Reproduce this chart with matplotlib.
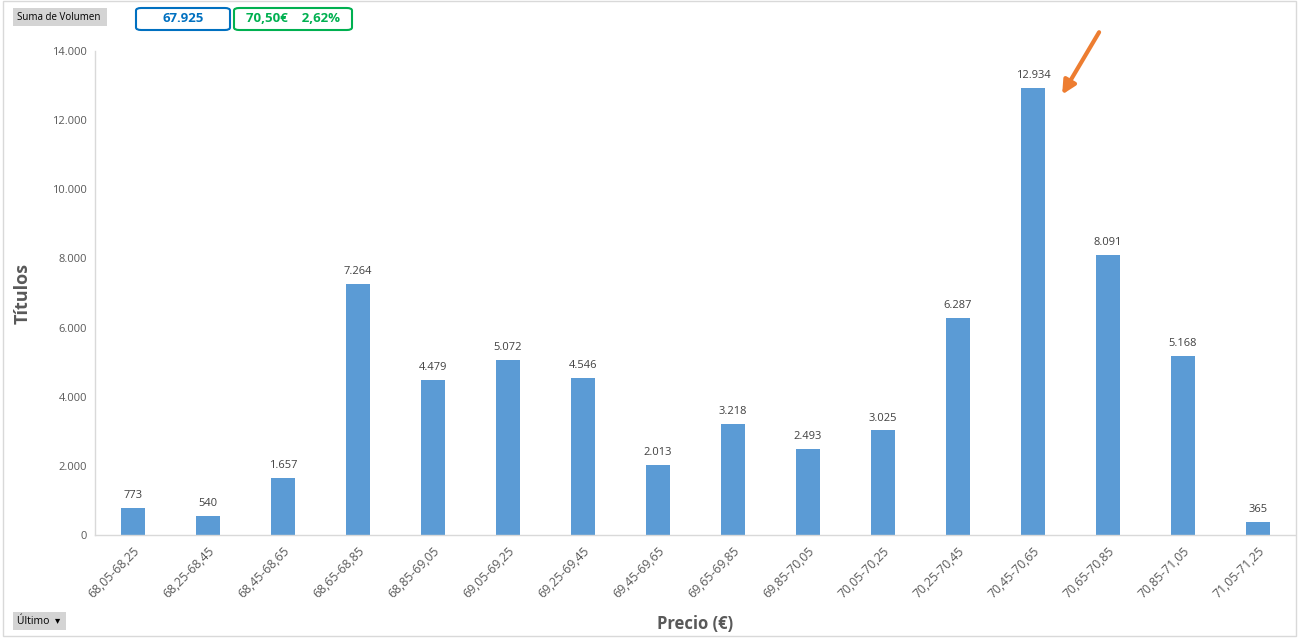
import matplotlib
matplotlib.use('Agg')
import matplotlib.pyplot as plt
import numpy as np
from matplotlib.patches import FancyBboxPatch, Rectangle

# ── data ────────────────────────────────────────────────────────────────
rangos = ['68,05-68,25', '68,25-68,45', '68,45-68,65', '68,65-68,85',
          '68,85-69,05', '69,05-69,25', '69,25-69,45', '69,45-69,65',
          '69,65-69,85', '69,85-70,05', '70,05-70,25', '70,25-70,45',
          '70,45-70,65', '70,65-70,85', '70,85-71,05', '71,05-71,25']
volumen = [773, 540, 1657, 7264, 4479, 5072, 4546, 2013,
           3218, 2493, 3025, 6287, 12934, 8091, 5168, 365]
yticks = [0, 2000, 4000, 6000, 8000, 10000, 12000, 14000]
total_txt = '67.925'
ultimo_txt = '70,50€    2,62%'

def miles(v):
    return f'{v:,.0f}'.replace(',', '.')

plt.rcParams['font.family'] = ['Open Sans', 'DejaVu Sans']
GREY = '#595959'
BLUE = '#5B9BD5'

fig = plt.figure(figsize=(12.99, 6.39), dpi=100)
ax = fig.add_axes([0.0735, 0.1628, 0.9238, 0.7572])

x = np.arange(len(rangos))
bars = ax.bar(x, volumen, width=0.32, color=BLUE)
ax.set_xlim(-0.5, len(rangos) - 0.5)
ax.set_ylim(0, 14000)
ax.set_yticks(yticks)
ax.set_yticklabels([miles(v) for v in yticks], fontsize=8, color=GREY)
ax.set_xticks(x)
ax.set_xticklabels(rangos, rotation=45, ha='right', rotation_mode='anchor',
                   fontsize=8.8, color=GREY)
ax.tick_params(axis='both', length=0, pad=6)
ax.tick_params(axis='x', pad=7)

for s in ['top', 'right']:
    ax.spines[s].set_visible(False)
for s in ['left', 'bottom']:
    ax.spines[s].set_color('#D9D9D9')
    ax.spines[s].set_linewidth(1)

for b, v in zip(bars, volumen):
    ax.text(b.get_x() + b.get_width() / 2, v + 200, miles(v),
            ha='center', va='bottom', fontsize=8, color='#404040')

ax.set_ylabel('Títulos', fontsize=13, fontweight='bold', color=GREY, labelpad=15)
ax.set_xlabel('Precio (€)', fontsize=12, fontweight='bold', color=GREY, labelpad=10)

# arrow pointing at the max bar
imax = int(np.argmax(volumen))
vmax = volumen[imax]
ax.annotate('', xy=(imax + 0.37, vmax * 0.98), xytext=(imax + 0.9, vmax * 1.13),
            arrowprops=dict(arrowstyle='-|>', color='#ED7D31', lw=3,
                            mutation_scale=20),
            annotation_clip=False)

# outer border
fig.patches.append(Rectangle((0.002, 0.004), 0.996, 0.994, transform=fig.transFigure,
                             fill=False, edgecolor='#D9D9D9', lw=1))

# pivot buttons
def fig_box(x0, y0, w, h, fc, ec, lw, rounded=False):
    W, H = 1299, 639
    if rounded:
        p = FancyBboxPatch((x0 / W, 1 - (y0 + h) / H), w / W, h / H,
                           boxstyle='round,pad=0,rounding_size=0.004',
                           transform=fig.transFigure, fc=fc, ec=ec, lw=lw)
    else:
        p = Rectangle((x0 / W, 1 - (y0 + h) / H), w / W, h / H,
                      transform=fig.transFigure, fc=fc, ec=ec, lw=lw)
    fig.patches.append(p)

fig_box(13, 8, 94, 18, '#D4D4D4', 'none', 0)
fig.text(17 / 1299, 1 - 17 / 639, 'Suma de Volumen', fontsize=7, va='center',
         ha='left', color='black')
fig_box(136, 8, 94, 22, 'white', '#0070C0', 1.5, rounded=True)
fig.text(183 / 1299, 1 - 19 / 639, total_txt, fontsize=9.5, fontweight='bold',
         color='#0070C0', ha='center', va='center')
fig_box(234, 8, 118, 22, 'white', '#00B050', 1.5, rounded=True)
fig.text(293 / 1299, 1 - 19 / 639, ultimo_txt, fontsize=9.5, fontweight='bold',
         color='#00B050', ha='center', va='center')
fig_box(13, 612, 53, 18, '#D4D4D4', 'none', 0)
fig.text(17 / 1299, 1 - 621 / 639, 'Último  ▾', fontsize=7.5, va='center',
         ha='left', color='black')

fig.savefig('out.png', dpi=100)
